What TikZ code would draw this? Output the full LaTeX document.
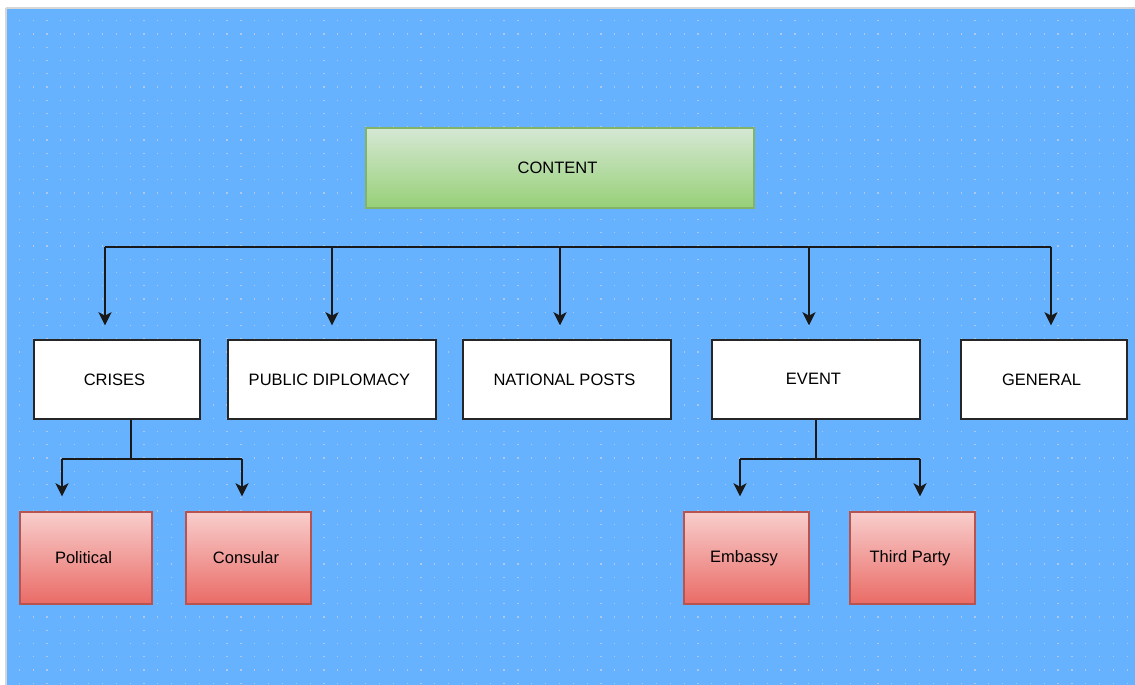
\documentclass[tikz,border=0pt]{standalone}
\usepackage{fontspec}
\setmainfont{Liberation Sans}
\usetikzlibrary{arrows.meta}
\newlength\pxu
\setlength\pxu{0.02cm}
\definecolor{bgblue}{HTML}{66B2FF}
\definecolor{griddot}{HTML}{AEC8E6}
\definecolor{edgegrey}{HTML}{D6D6D6}
\definecolor{greentop}{HTML}{D5E8D4}
\definecolor{greenbot}{HTML}{97D077}
\definecolor{greenline}{HTML}{82B366}
\definecolor{redtop}{HTML}{F8CECC}
\definecolor{redbot}{HTML}{EA6B66}
\definecolor{redline}{HTML}{B85450}
\tikzset{
  lbl/.style={font=\fontsize{9.4}{11}\selectfont, text=black, inner sep=0pt,
    execute at begin node={\kern-5\pxu}},
  topbox/.style={lbl, rectangle, draw=greenline, line width=0.7pt,
    top color=greentop, bottom color=greenbot,
    minimum width=388\pxu, minimum height=80\pxu},
  catbox/.style={lbl, rectangle, draw=black!85, fill=white, line width=0.8pt,
    minimum height=79\pxu},
  leafbox/.style={lbl, rectangle, draw=redline, line width=0.7pt,
    top color=redtop, bottom color=redbot,
    minimum width=125\pxu, minimum height=92\pxu},
  wire/.style={draw=black!90, line width=0.8pt},
  arr/.style={wire, -{Stealth[length=7.5pt, width=7.5pt, inset=2pt]},
    shorten >=14\pxu},
}
\begin{document}
\begin{tikzpicture}[x=1\pxu, y=-1\pxu]
\useasboundingbox (0,0) rectangle (1135,685);
% canvas
\fill[white] (0,0) rectangle (1135,685);
\fill[bgblue] (7,9) rectangle (1135,685);
\draw[edgegrey, line width=1.2pt] (6,8) -- (1135,8);
\draw[edgegrey, line width=1.2pt] (6,8) -- (6,685);
% dotted grid
\foreach \i in {0,...,80} {
  \foreach \j in {0,...,50} {
    \fill[griddot] ({19.3+13.85*\i-0.6},{20.7+13.25*\j-0.6}) rectangle ++(1.2,1.2);
  }
}
% boxes
\node[topbox] (content) at (560,168) {CONTENT};
\node[catbox, minimum width=166\pxu] (crises) at (117,379.5) {CRISES};
\node[catbox, minimum width=208\pxu] (pd) at (332,379.5) {PUBLIC DIPLOMACY};
\node[catbox, minimum width=208\pxu] (np) at (567,379.5) {NATIONAL POSTS};
\node[catbox, minimum width=208\pxu] (event) at (816,379.5) {\raisebox{2\pxu}{EVENT}};
\node[catbox, minimum width=166\pxu] (general) at (1044,379.5) {GENERAL};
\node[leafbox, minimum width=132\pxu] (political) at (86,558) {Political};
\node[leafbox] (consular) at (248.5,558) {Consular};
\node[leafbox] (embassy) at (746.5,558) {Embassy};
\node[leafbox] (third) at (912.5,558) {Third Party};
% top-level bus
\coordinate (b1) at (105,247);
\coordinate (b2) at (332,247);
\coordinate (b3) at (560,247);
\coordinate (b4) at (809,247);
\coordinate (b5) at (1051,247);
\draw[wire] (b1) -- (b5);
\draw[arr] (b1) -- (b1 |- crises.north);
\draw[arr] (b2) -- (b2 |- pd.north);
\draw[arr] (b3) -- (b3 |- np.north);
\draw[arr] (b4) -- (b4 |- event.north);
\draw[arr] (b5) -- (b5 |- general.north);
% crises branch
\coordinate (cs) at (131,419);
\coordinate (cj) at (131,459);
\coordinate (cl) at (62,459);
\coordinate (cr) at (242,459);
\draw[wire] (cs |- crises.south) -- (cj);
\draw[wire] (cl) -- (cr);
\draw[arr, shorten >=15\pxu] (cl) -- (cl |- political.north);
\draw[arr, shorten >=15\pxu] (cr) -- (cr |- consular.north);
% event branch
\coordinate (es) at (816,419);
\coordinate (ej) at (816,459);
\coordinate (el) at (740,459);
\coordinate (er) at (920,459);
\draw[wire] (es |- event.south) -- (ej);
\draw[wire] (el) -- (er);
\draw[arr, shorten >=15\pxu] (el) -- (el |- embassy.north);
\draw[arr, shorten >=15\pxu] (er) -- (er |- third.north);
\end{tikzpicture}
\end{document}
